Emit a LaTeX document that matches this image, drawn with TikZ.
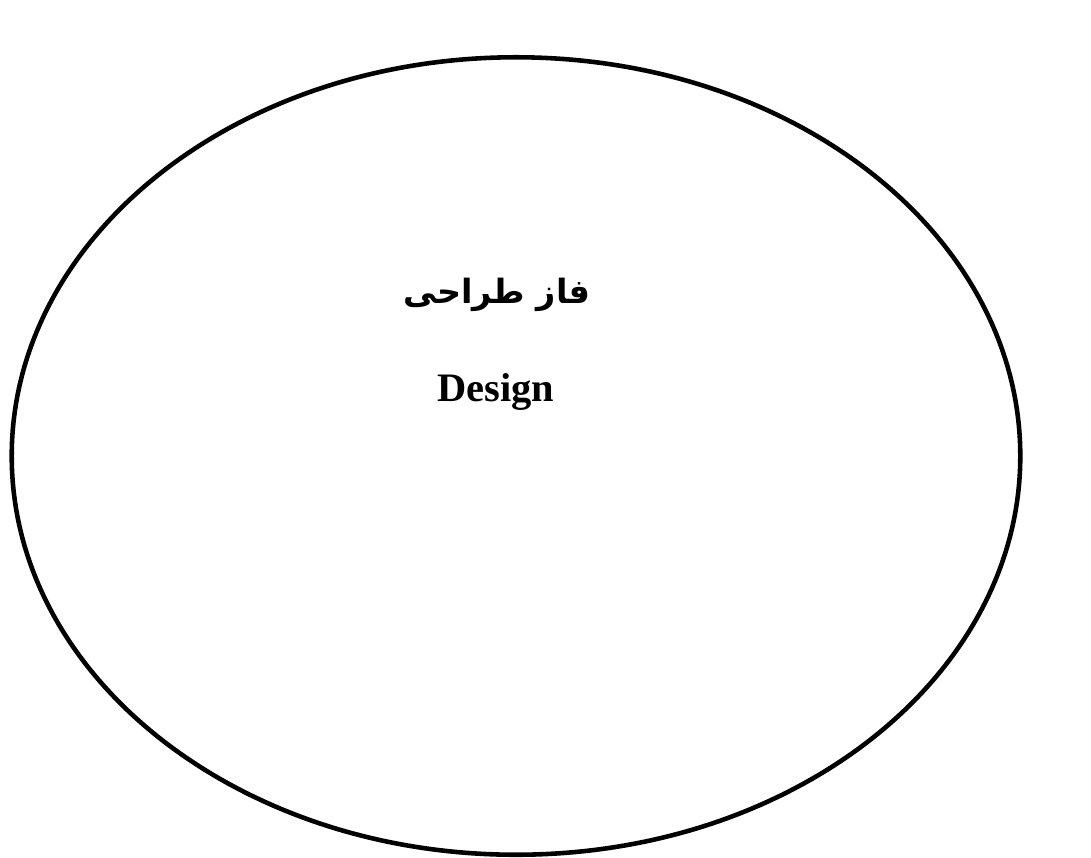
\documentclass[tikz,border=0pt]{standalone}
\usepackage{fontspec}
\setmainfont{Liberation Serif}
\newfontfamily\arabicfont[Script=Arabic]{DejaVu Sans}
\TeXXeTstate=1
\usetikzlibrary{shapes.geometric}
\tikzset{
  phase/.style={
    draw=black,
    ellipse,
    line width=1.3pt,
    fill=white,
    inner sep=0pt,
    minimum width=10.08cm,
    minimum height=7.97cm
  },
  fatext/.style={font=\arabicfont\bfseries\fontsize{9.5}{12}\selectfont, inner sep=0pt},
  entext/.style={font=\bfseries\fontsize{11.5}{14}\selectfont, inner sep=0pt}
}
\begin{document}
\begin{tikzpicture}[x=0.01cm, y=-0.01cm]
\useasboundingbox (0,0) rectangle (1091,857);
\node[phase] (design) at (516,456) {};
\node[fatext] (fatitle) at (497,295) {\beginR فاز طراحی\endR};
\node[entext, anchor=base] (entitle) at (496,401) {Design};
\end{tikzpicture}
\end{document}
